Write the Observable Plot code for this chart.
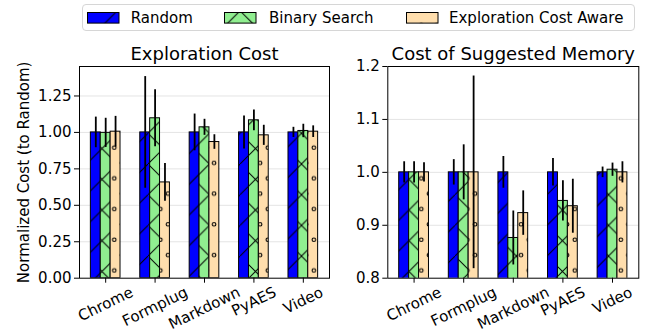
<!DOCTYPE html>
<html>
<head>
<meta charset="utf-8">
<script src="https://cdn.jsdelivr.net/npm/d3@7"></script>
<script src="https://cdn.jsdelivr.net/npm/@observablehq/plot@0.6"></script>
<style>
  html, body { margin: 0; padding: 0; background: #fff; }
  #figure { position: relative; width: 664px; height: 333px; overflow: hidden;
            font-family: "DejaVu Sans", sans-serif; color: #000; }
  #figure svg.panel { position: absolute; top: 0; }
  .legend { position: absolute; left: 81.5px; top: 3.5px; width: 553px; height: 27px;
            box-sizing: border-box; border: 1px solid #d6d6d6; border-radius: 4px; background: #fff; }
  .legend-label { position: absolute; top: 5px; font-size: 15px; line-height: 17px; white-space: nowrap; }
  .legend-swatch { position: absolute; top: 8.2px; }
</style>
</head>
<body>
<div id="figure"></div>
<script>
// Benchmarks and strategies
const categories = ["Chrome", "Formplug", "Markdown", "PyAES", "Video"];
const methods = ["Random", "Binary Search", "Exploration Cost Aware"];
const methodColors = ["#0000ff", "#90ee90", "#ffdead"];
const methodHatches = ["slash", "cross", "circles"];

// Exploration cost, normalized to Random: means and error half-widths
const explRandom    = [1.000, 1.000, 1.000, 1.000, 1.000];
const explRandomErr = [0.105, 0.383, 0.126, 0.113, 0.035];
const explBinary    = [0.997, 1.097, 1.035, 1.083, 1.010];
const explBinaryErr = [0.100, 0.195, 0.055, 0.071, 0.046];
const explAware     = [1.005, 0.657, 0.934, 0.980, 1.005];
const explAwareErr  = [0.105, 0.130, 0.050, 0.069, 0.040];

// Cost of the suggested memory configuration, normalized to Random
const memRandom    = [1.000, 1.000, 1.000, 1.000, 1.000];
const memRandomErr = [0.020, 0.024, 0.030, 0.026, 0.010];
const memBinary    = [1.000, 1.000, 0.876, 0.946, 1.005];
const memBinaryErr = [0.020, 0.052, 0.051, 0.038, 0.0125];
const memAware     = [1.000, 1.000, 0.923, 0.936, 1.000];
const memAwareErr  = [0.018, 0.182, 0.042, 0.051, 0.020];

// Axis ticks
const explTicks = [0, 0.25, 0.5, 0.75, 1.0, 1.25];
const memTicks = [0.8, 0.9, 1.0, 1.1, 1.2];

const BAR = 0.2;          // bar width in category units
const HATCH = 30.7;       // hatch repeat (px)
const FONT = "DejaVu Sans";

// Hatch patterns, anchored to the page so that every panel shares one lattice.
function hatchDefs(prefix, ox, oy) {
  const s = HATCH;
  const lx = -5.5 - ox, ly = 10.5 - oy;
  const cx = 114.3 - s / 8 - ox, cy = 209 - s / 4 - oy;
  return `
  <pattern id="${prefix}-slash" patternUnits="userSpaceOnUse" x="${lx}" y="${ly}" width="${s}" height="${s}">
    <path d="M-1,${s + 1}L${s + 1},-1" stroke="#000" stroke-width="1" fill="none"/>
  </pattern>
  <pattern id="${prefix}-cross" patternUnits="userSpaceOnUse" x="${lx}" y="${ly}" width="${s}" height="${s}">
    <path d="M-1,${s + 1}L${s + 1},-1M-1,-1L${s + 1},${s + 1}" stroke="#000" stroke-width="1" fill="none"/>
  </pattern>
  <pattern id="${prefix}-circles" patternUnits="userSpaceOnUse" x="${cx}" y="${cy}" width="${s / 2}" height="${s}">
    <circle cx="${s / 8}" cy="${s / 4}" r="1.8" fill="none" stroke="#000" stroke-width="1.1"/>
    <circle cx="${3 * s / 8}" cy="${3 * s / 4}" r="1.8" fill="none" stroke="#000" stroke-width="1.1"/>
  </pattern>`;
}

const figure = document.getElementById("figure");

// Shared pattern definitions
const swatchPos = [[87, 11.7], [224, 11.7], [406, 11.7]];
const defsSvg = document.createElementNS("http://www.w3.org/2000/svg", "svg");
defsSvg.setAttribute("width", 0);
defsSvg.setAttribute("height", 0);
defsSvg.style.position = "absolute";
defsSvg.innerHTML = "<defs>" +
  hatchDefs("left", 0, 0) +
  hatchDefs("right", 332, 0) +
  swatchPos.map(([x, y], j) => hatchDefs("sw" + j, x, y)).join("") +
  "</defs>";
figure.appendChild(defsSvg);

// Rotated tick-label placement below the axis
const measureCtx = document.createElement("canvas").getContext("2d");
measureCtx.font = `15px "${FONT}"`;
const ROT = 26;
function labelOffset(text) {
  const w = measureCtx.measureText(text).width;
  return 7.5 + Math.sin(ROT * Math.PI / 180) * w / 2 + 5.6;
}

function panel({left, marginLeft, marginRight, title, yDomain, yTicks, yGrid, yFormat, series, prefix, ylabel}) {
  const rows = series.flatMap(([mean, err], j) =>
    categories.map((c, i) => ({
      i, j,
      x1: i + (j - 1) * BAR - BAR / 2,
      x2: i + (j - 1) * BAR + BAR / 2,
      xc: i + (j - 1) * BAR,
      v: mean[i],
      e: err[i]
    }))
  );
  const n = categories.length;
  const pad = 0.05 * (n - 1 + 3 * BAR);
  const marks = [
    Plot.ruleY(yGrid, {stroke: "#e4e4e4", strokeWidth: 1}),
    ...methods.flatMap((m, j) => {
      const d = rows.filter((r) => r.j === j);
      return [
        Plot.rectY(d, {x1: "x1", x2: "x2", y1: 0, y2: "v", fill: methodColors[j], clip: true}),
        Plot.rectY(d, {x1: "x1", x2: "x2", y1: 0, y2: "v", fill: `url(#${prefix}-${methodHatches[j]})`,
                       stroke: "#000", strokeWidth: 1, clip: true})
      ];
    }),
    Plot.ruleX(rows, {x: "xc", y1: (d) => d.v - d.e, y2: (d) => d.v + d.e, stroke: "#000", strokeWidth: 1.8}),
    Plot.frame({stroke: "#000", strokeWidth: 1}),
    Plot.axisY(yTicks, {tickSize: 5, tickPadding: 3, tickFormat: yFormat, fontSize: 15, label: null}),
    Plot.axisX(d3.range(n), {tickSize: 5, tickFormat: () => "", label: null}),
    ...categories.map((c, i) =>
      Plot.text([i], {x: (d) => d, text: () => c, frameAnchor: "bottom", rotate: -ROT,
                      textAnchor: "middle", lineAnchor: "middle", dy: labelOffset(c), fontSize: 15})
    ),
    Plot.text([title], {text: (d) => d, frameAnchor: "top", lineAnchor: "bottom", dy: -7, fontSize: 18})
  ];
  if (ylabel) {
    marks.push(Plot.text([ylabel], {text: (d) => d, frameAnchor: "left", rotate: -90, textAnchor: "middle",
                                    lineAnchor: "middle", dx: -55.5, fontSize: 15}));
  }
  const svg = Plot.plot({
    width: 332,
    height: 333,
    marginTop: 66,
    marginBottom: 55.3,
    marginLeft,
    marginRight,
    x: {domain: [-1.5 * BAR - pad, n - 1 + 1.5 * BAR + pad]},
    y: {domain: yDomain},
    style: {fontFamily: FONT, fontSize: "15px", color: "#000", background: "transparent", overflow: "visible"},
    marks
  });
  svg.classList.add("panel");
  svg.style.left = left + "px";
  figure.appendChild(svg);
}

const explTop = d3.max([[explRandom, explRandomErr], [explBinary, explBinaryErr], [explAware, explAwareErr]]
  .flatMap(([m, e]) => m.map((v, i) => v + e[i]))) * 1.05;

panel({
  left: 0, marginLeft: 79, marginRight: 3,
  title: "Exploration Cost",
  yDomain: [0, explTop],
  yTicks: explTicks,
  yGrid: explTicks.filter((t) => t > 0),
  yFormat: d3.format(".2f"),
  series: [[explRandom, explRandomErr], [explBinary, explBinaryErr], [explAware, explAwareErr]],
  prefix: "left",
  ylabel: "Normalized Cost (to Random)"
});

panel({
  left: 332, marginLeft: 55.3, marginRight: 25.7,
  title: "Cost of Suggested Memory",
  yDomain: [0.8, 1.2],
  yTicks: memTicks,
  yGrid: memTicks.slice(1, -1),
  yFormat: d3.format(".1f"),
  series: [[memRandom, memRandomErr], [memBinary, memBinaryErr], [memAware, memAwareErr]],
  prefix: "right"
});

// Legend
const legend = document.createElement("div");
legend.className = "legend";
figure.appendChild(legend);
const legendLeft = 81.5, legendTop = 3.5;
const labelX = [130.7, 269, 449];
methods.forEach((m, j) => {
  const [sx, sy] = swatchPos[j];
  const sw = document.createElementNS("http://www.w3.org/2000/svg", "svg");
  sw.setAttribute("class", "legend-swatch");
  sw.setAttribute("width", 33);
  sw.setAttribute("height", 12);
  sw.style.left = (sx - legendLeft - 1) + "px";
  sw.style.top = (sy - legendTop - 1) + "px";
  sw.innerHTML = `<rect x="0.5" y="0.5" width="31.5" height="10.6" fill="${methodColors[j]}"/>` +
    `<rect x="0.5" y="0.5" width="31.5" height="10.6" fill="url(#sw${j}-${methodHatches[j]})" stroke="#000" stroke-width="1"/>`;
  legend.appendChild(sw);
  const lab = document.createElement("span");
  lab.className = "legend-label";
  lab.textContent = m;
  lab.style.left = (labelX[j] - legendLeft - 1) + "px";
  legend.appendChild(lab);
});
</script>
</body>
</html>
